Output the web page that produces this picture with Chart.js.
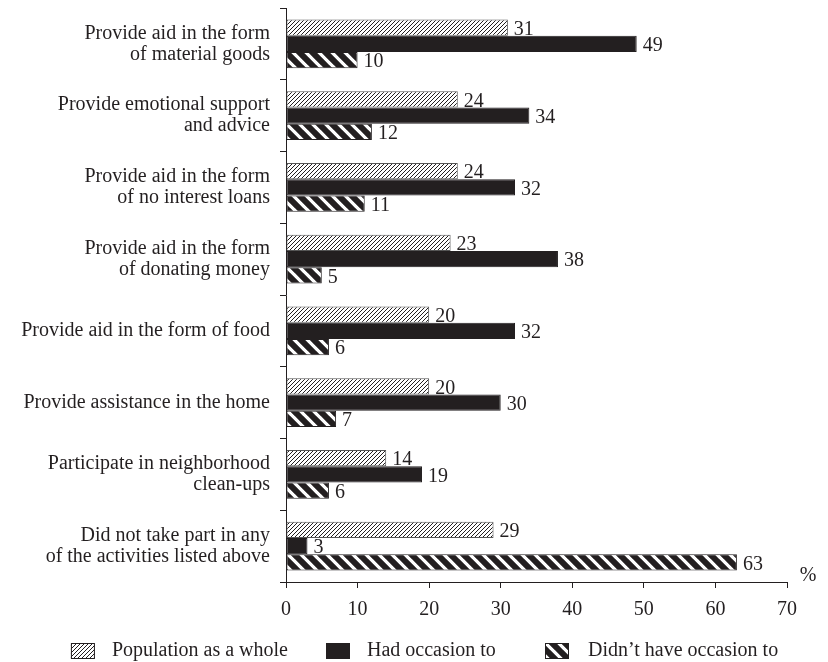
<!DOCTYPE html>
<html>
<head>
<meta charset="utf-8">
<script src="https://cdn.jsdelivr.net/npm/chart.js@4"></script>
<style>
  body { margin: 0; background: #fff; }
</style>
</head>
<body>
<canvas id="barCanvas" width="828" height="662"></canvas>
<script>
const categories = [
    ["Provide aid in the form", "of material goods"],
    ["Provide emotional support", "and advice"],
    ["Provide aid in the form", "of no interest loans"],
    ["Provide aid in the form", "of donating money"],
    "Provide aid in the form of food",
    "Provide assistance in the home",
    ["Participate in neighborhood", "clean-ups"],
    ["Did not take part in any", "of the activities listed above"]
];
const populationWhole = [31, 24, 24, 23, 20, 20, 14, 29];
const hadOccasion = [49, 34, 32, 38, 32, 30, 19, 3];
const noOccasion = [10, 12, 11, 5, 6, 7, 6, 63];
const seriesNames = ["Population as a whole", "Had occasion to", "Didn\u2019t have occasion to"];
const xMin = 0, xMax = 70, xStep = 10;

const serif = "'Liberation Serif', 'Times New Roman', serif";
const ink = "#231f20";

// fine "/" hatching
function hatchPattern() {
    const p = 4;
    const c = document.createElement("canvas");
    c.width = p; c.height = p;
    const g = c.getContext("2d");
    g.fillStyle = "#fff";
    g.fillRect(0, 0, p, p);
    g.strokeStyle = ink;
    g.lineWidth = 1;
    g.beginPath();
    g.moveTo(-1, p + 1); g.lineTo(p + 1, -1);
    g.moveTo(-1, 1); g.lineTo(1, -1);
    g.moveTo(p - 1, p + 1); g.lineTo(p + 1, p - 1);
    g.stroke();
    return g.createPattern(c, "repeat");
}

// thick "\" stripes
function stripePattern() {
    const p = 13;
    const c = document.createElement("canvas");
    c.width = p; c.height = p;
    const g = c.getContext("2d");
    g.fillStyle = "#fff";
    g.fillRect(0, 0, p, p);
    g.strokeStyle = ink;
    g.lineWidth = 6;
    g.beginPath();
    g.moveTo(-2, -2); g.lineTo(p + 2, p + 2);
    g.moveTo(-p - 2, -2); g.lineTo(2, p + 2);
    g.moveTo(p - 2, -2); g.lineTo(2 * p + 2, p + 2);
    g.stroke();
    return g.createPattern(c, "repeat");
}

const fills = [hatchPattern(), ink, stripePattern()];

const valueLabels = {
    id: "valueLabels",
    afterDatasetsDraw(chart) {
        const ctx = chart.ctx;
        ctx.save();
        ctx.font = "20px " + serif;
        ctx.fillStyle = ink;
        ctx.textAlign = "left";
        ctx.textBaseline = "middle";
        chart.data.datasets.forEach((ds, i) => {
            chart.getDatasetMeta(i).data.forEach((bar, j) => {
                ctx.fillText(String(ds.data[j]), bar.x + 6, bar.y + 2);
            });
        });
        ctx.restore();
    }
};

const bottomLegend = {
    id: "bottomLegend",
    afterDraw(chart) {
        const ctx = chart.ctx;
        ctx.save();
        ctx.font = "20px " + serif;
        ctx.fillStyle = ink;
        ctx.textBaseline = "middle";
        // percent sign at the end of the x axis
        ctx.textAlign = "center";
        ctx.fillText("%", 808, 576);
        ctx.textAlign = "left";
        const y = 651;
        const w1 = ctx.measureText(seriesNames[0]).width;
        const textX = [288 - w1, 367, 588];
        textX.forEach((tx, i) => {
            const bx = tx - 41 + (i === 2 ? -2 : 0);
            ctx.fillStyle = fills[i];
            ctx.fillRect(bx, y - 8, 24, 16);
            ctx.strokeStyle = ink;
            ctx.lineWidth = 1;
            ctx.strokeRect(bx + 0.5, y - 7.5, 23, 15);
            ctx.fillStyle = ink;
            ctx.fillText(seriesNames[i], tx, y);
        });
        ctx.restore();
    }
};

function noPadding(scale) {
    scale.paddingTop = 0;
    scale.paddingBottom = 0;
    scale.paddingLeft = 0;
    scale.paddingRight = 0;
}

const barCanvas = document.querySelector("#barCanvas");

const barChart = new Chart(barCanvas, {
    type: "bar",
    data: {
        labels: categories,
        datasets: [populationWhole, hadOccasion, noOccasion].map((values, i) => ({
            label: seriesNames[i],
            data: values,
            backgroundColor: fills[i],
            borderColor: i === 0 ? "#555" : ink,
            borderWidth: 1,
            borderSkipped: false,
            categoryPercentage: 0.676,
            barPercentage: 1
        }))
    },
    options: {
        indexAxis: "y",
        responsive: false,
        animation: false,
        layout: {
            padding: { top: 8, right: 41, left: 0, bottom: 0 }
        },
        plugins: {
            legend: { display: false },
            tooltip: { enabled: false }
        },
        scales: {
            x: {
                min: xMin,
                max: xMax,
                afterFit(scale) { scale.height = 80; noPadding(scale); },
                ticks: {
                    stepSize: xStep,
                    color: ink,
                    padding: 10,
                    font: { family: serif, size: 20 }
                },
                grid: {
                    drawOnChartArea: false,
                    tickLength: 6,
                    color: ink
                },
                border: { color: ink, width: 1 }
            },
            y: {
                afterFit(scale) { scale.width = 286; noPadding(scale); },
                ticks: {
                    color: ink,
                    padding: 10,
                    font: { family: serif, size: 20, lineHeight: 1.05 }
                },
                grid: {
                    drawOnChartArea: false,
                    offset: true,
                    tickLength: 6,
                    color: ink
                },
                border: { color: ink, width: 1 }
            }
        }
    },
    plugins: [valueLabels, bottomLegend]
});
</script>
</body>
</html>
